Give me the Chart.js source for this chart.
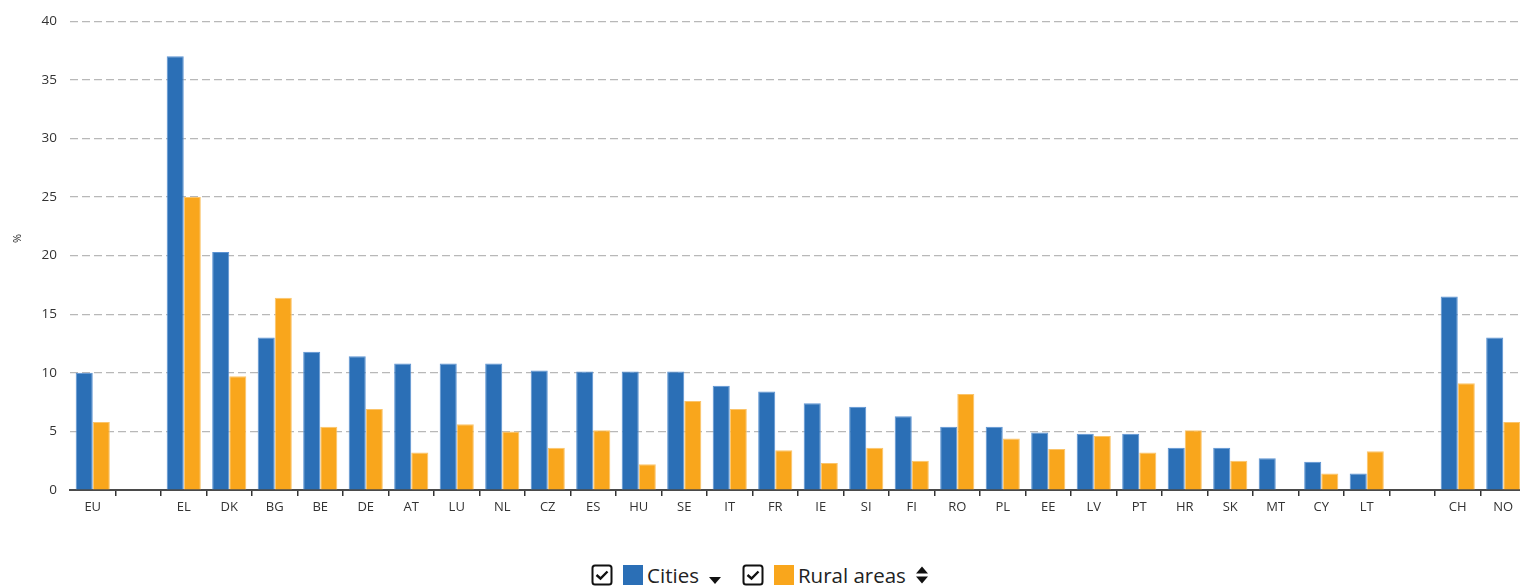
<!DOCTYPE html>
<html>
<head>
<meta charset="utf-8">
<script src="https://cdn.jsdelivr.net/npm/chart.js@4/dist/chart.umd.min.js"></script>
<style>
  html, body { margin:0; padding:0; background:#fff; overflow:hidden; width:1520px; height:587px; }
  #wrap { position:absolute; left:0; top:0; width:1526px; height:530px; }
  #legend { position:absolute; left:0; top:561px; width:1520px; height:28px; display:flex; justify-content:center; align-items:center;
            font-family:"Open Sans", sans-serif; font-size:20.5px; color:#222; }
  .item { display:flex; align-items:center; margin:0 10px; }
  .sw { width:20px; height:20px; display:inline-block; margin:0 4px 0 10px; }
  .caret { margin-left:9px; }
</style>
</head>
<body>
<div id="wrap"><canvas id="c"></canvas></div>
<div id="legend">
  <div class="item">
    <svg width="22" height="22" viewBox="0 0 22 22"><rect x="1.5" y="1.5" width="19" height="19" rx="2.5" fill="#fff" stroke="#111" stroke-width="2"/><path d="M5.5 11 L9.5 14.5 L16.5 7.5" fill="none" stroke="#111" stroke-width="2.4"/></svg>
    <span class="sw" style="background:#2b6fb6"></span><span>Cities</span>
    <svg class="caret" width="14" height="22" viewBox="0 0 14 22"><path d="M1 13 L13 13 L7 20 Z" fill="#111"/></svg>
  </div>
  <div class="item">
    <svg width="22" height="22" viewBox="0 0 22 22"><rect x="1.5" y="1.5" width="19" height="19" rx="2.5" fill="#fff" stroke="#111" stroke-width="2"/><path d="M5.5 11 L9.5 14.5 L16.5 7.5" fill="none" stroke="#111" stroke-width="2.4"/></svg>
    <span class="sw" style="background:#f9a61c"></span><span>Rural areas</span>
    <svg class="caret" width="14" height="20" viewBox="0 0 14 20"><path d="M1 8.5 L13 8.5 L7 1.5 Z M1 11.5 L13 11.5 L7 18.5 Z" fill="#111"/></svg>
  </div>
</div>
<script>
const categories = ["EU","","EL","DK","BG","BE","DE","AT","LU","NL","CZ","ES","HU","SE","IT","FR","IE","SI","FI","RO","PL","EE","LV","PT","HR","SK","MT","CY","LT","","CH","NO"];
const cities = [10.0,null,37.0,20.3,13.0,11.8,11.4,10.8,10.8,10.8,10.2,10.1,10.1,10.1,8.9,8.4,7.4,7.1,6.3,5.4,5.4,4.9,4.8,4.8,3.6,3.6,2.7,2.4,1.4,null,16.5,13.0];
const rural  = [5.8,null,25.0,9.7,16.4,5.4,6.9,3.2,5.6,5.0,3.6,5.1,2.2,7.6,6.9,3.4,2.3,3.6,2.5,8.2,4.4,3.5,4.6,3.2,5.1,2.5,null,1.4,3.3,null,9.1,5.8];
const yTicks = [0,5,10,15,20,25,30,35,40];
const yTitle = '%';

const yTitlePlugin = {
  id: 'yTitle',
  afterDraw(chart) {
    const ctx = chart.ctx;
    const a = chart.chartArea;
    ctx.save();
    ctx.translate(18, (a.top + a.bottom) / 2 - 17);
    ctx.rotate(-Math.PI / 2);
    ctx.fillStyle = '#222';
    ctx.font = '11px "Open Sans", sans-serif';
    ctx.textAlign = 'center';
    ctx.textBaseline = 'middle';
    ctx.fillText(yTitle, 0, 0);
    ctx.restore();
  }
};

new Chart(document.getElementById('c'), {
  type: 'bar',
  data: {
    labels: categories,
    datasets: [
      { label:'Cities', data: cities, backgroundColor:'#2b6fb6', borderColor:'#5c93d3', borderWidth:{top:1,left:1,right:1,bottom:0}, categoryPercentage:0.75, barPercentage:1.0 },
      { label:'Rural areas', data: rural, backgroundColor:'#f9a61c', borderColor:'#fbc46a', borderWidth:{top:1,left:1,right:1,bottom:0}, categoryPercentage:0.75, barPercentage:1.0 }
    ]
  },
  plugins: [yTitlePlugin],
  options: {
    responsive: true,
    maintainAspectRatio: false,
    animation: false,
    layout: { padding: { top: 20, right: 0, bottom: 0, left: 0 } },
    plugins: { legend: { display:false }, tooltip: { enabled:false } },
    scales: {
      x: {
        grid: {
          drawOnChartArea:false, drawTicks:true, tickLength:6, offset:true, lineWidth:1.5,
          color: ctx => (ctx.index === 0 ? 'rgba(0,0,0,0)' : '#333')
        },
        border: { display:true, color:'#4a4a4a', width:2 },
        ticks: { color:'#333', font:{ family:'"Open Sans", sans-serif', size:13 }, padding:3, autoSkip:false, maxRotation:0 },
        afterFit: s => { s.height = 40; }
      },
      y: {
        min: 0, max: 40,
        afterBuildTicks: s => { s.ticks = yTicks.map(v => ({ value: v })); },
        grid: {
          drawTicks:false,
          color: ctx => (ctx.tick && ctx.tick.value === 0 ? 'rgba(0,0,0,0)' : '#b8b8b8'),
          lineWidth: 1.2
        },
        border: { display:false, dash:[8,4] },
        ticks: { color:'#333', font:{ family:'"Open Sans", sans-serif', size:13.5 }, padding:13 },
        title: { display:false },
        afterFit: s => { s.width = 70; }
      }
    }
  }
});
</script>
</body>
</html>
